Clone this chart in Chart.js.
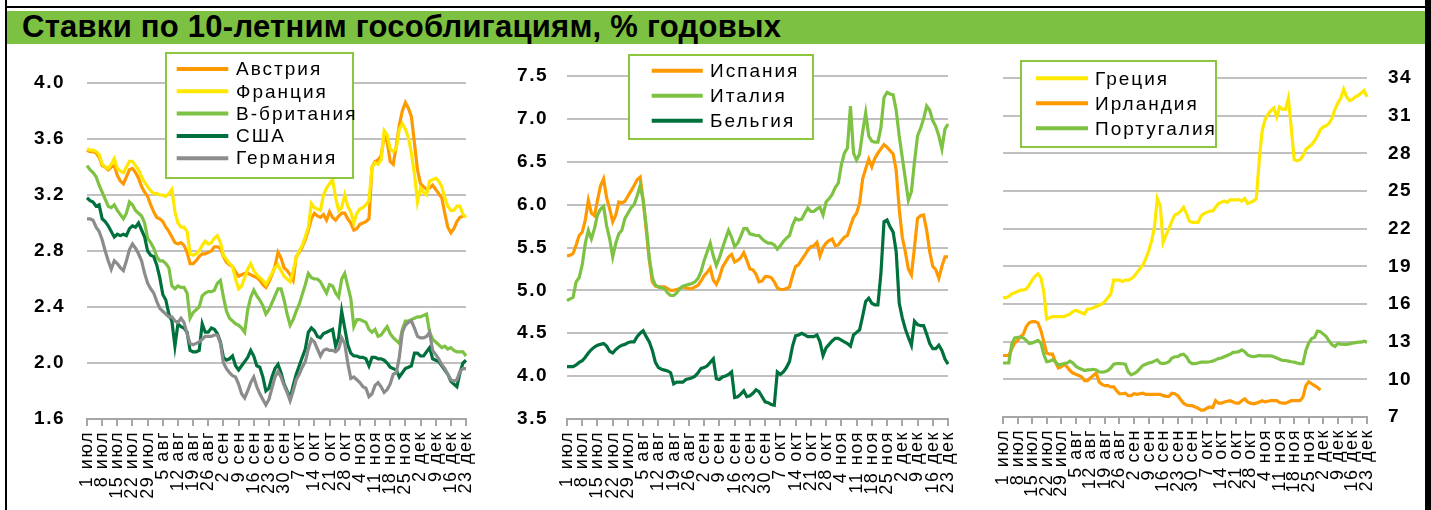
<!DOCTYPE html>
<html><head><meta charset="utf-8">
<script src="https://cdn.jsdelivr.net/npm/chart.js@4"></script>
<style>
html,body{margin:0;padding:0;background:#fff;}
#wrap{position:relative;width:1431px;height:510px;overflow:hidden;background:#fff;font-family:Arial,"Liberation Sans",sans-serif;}
.bl{position:absolute;background:#000;}
#title{position:absolute;left:7px;top:11px;width:1418px;height:33px;background:#7CC142;}
#title span{position:absolute;left:15px;top:-1px;line-height:33px;font-weight:bold;font-size:31px;letter-spacing:0.25px;color:#000;white-space:nowrap;}
canvas{position:absolute;}
</style></head>
<body>
<div id="wrap">
  <div class="bl" style="left:5px;top:0;width:2px;height:510px"></div>
  <div class="bl" style="left:5px;top:6px;width:1426px;height:2px"></div>
  <div class="bl" style="left:1425px;top:0;width:6px;height:510px"></div>
  <div id="title"><span>Ставки по 10-летним гособлигациям, % годовых</span></div>
  <canvas id="c1" width="473" height="462" style="left:7px;top:44px"></canvas>
  <canvas id="c2" width="480" height="462" style="left:480px;top:44px"></canvas>
  <canvas id="c3" width="465" height="462" style="left:960px;top:44px"></canvas>
</div>
<script>
// weekly tick labels (Fridays); data are business days, 126 points (1 июл .. 23 дек)
const weekLabels = ["1 июл","8 июл","15 июл","22 июл","29 июл","5 авг","12 авг","19 авг","26 авг","2 сен","9 сен","16 сен","23 сен","30 сен","7 окт","14 окт","21 окт","28 окт","4 ноя","11 ноя","18 ноя","25 ноя","2 дек","9 дек","16 дек","23 дек"];

const yTicks1 = [1.6, 2.0, 2.4, 2.8, 3.2, 3.6, 4.0];
const yTicks2 = [3.5, 4.0, 4.5, 5.0, 5.5, 6.0, 6.5, 7.0, 7.5];
const yTicks3 = [7, 10, 13, 16, 19, 22, 25, 28, 31, 34];

const austria = [3.52,3.51,3.51,3.50,3.47, 3.41,3.40,3.38,3.40,3.41, 3.34,3.30,3.28,3.33,3.38, 3.39,3.36,3.32,3.26,3.22, 3.19,3.13,3.08,3.04,3.03, 3.01,2.97,2.94,2.90,2.86, 2.85,2.86,2.84,2.79,2.71, 2.71,2.73,2.76,2.78,2.78, 2.79,2.80,2.83,2.83,2.82, 2.76,2.72,2.70,2.69,2.65, 2.62,2.63,2.64,2.64,2.63, 2.62,2.61,2.59,2.56,2.54, 2.58,2.63,2.69,2.79,2.75, 2.68,2.66,2.63,2.59,2.76, 2.79,2.83,2.88,2.95,3.03, 3.07,3.05,3.04,3.06,3.02, 3.08,3.04,3.02,3.05,3.07, 3.07,3.03,3.00,2.95,2.96, 2.99,3.00,3.01,3.03,3.40, 3.44,3.45,3.48,3.62,3.58, 3.44,3.42,3.55,3.70,3.80, 3.86,3.82,3.76,3.57,3.38, 3.28,3.26,3.24,3.25,3.27, 3.24,3.21,3.18,3.07,2.97, 2.93,2.96,3.01,3.04,3.05, 3.05];
const france = [3.53,3.52,3.52,3.51,3.49, 3.42,3.40,3.39,3.42,3.46, 3.39,3.37,3.36,3.40,3.44, 3.44,3.41,3.38,3.33,3.29, 3.26,3.23,3.21,3.21,3.20, 3.20,3.19,3.21,3.24,3.08, 3.00,2.97,2.97,2.94,2.78, 2.77,2.78,2.80,2.84,2.87, 2.85,2.86,2.89,2.91,2.86, 2.77,2.74,2.71,2.69,2.60, 2.53,2.55,2.61,2.67,2.71, 2.66,2.63,2.61,2.59,2.56, 2.60,2.64,2.68,2.70,2.66, 2.62,2.60,2.58,2.66,2.75, 2.80,2.84,2.90,2.97,3.14, 3.11,3.10,3.09,3.20,3.25, 3.28,3.31,3.18,3.09,3.11, 3.20,3.12,3.08,3.00,3.07, 3.10,3.11,3.13,3.16,3.40, 3.43,3.42,3.45,3.66,3.63, 3.53,3.51,3.53,3.67,3.71, 3.67,3.61,3.50,3.35,3.15, 3.25,3.22,3.20,3.30,3.31, 3.32,3.30,3.26,3.18,3.12, 3.09,3.09,3.12,3.12,3.06, 3.04];
const britain = [3.41,3.38,3.36,3.33,3.27, 3.22,3.17,3.12,3.11,3.13, 3.09,3.06,3.03,3.07,3.15, 3.13,3.09,3.07,3.05,3.00, 2.89,2.86,2.82,2.76,2.73, 2.73,2.71,2.68,2.55,2.53, 2.55,2.54,2.54,2.50,2.32, 2.36,2.38,2.40,2.48,2.50, 2.51,2.51,2.52,2.57,2.59, 2.47,2.37,2.32,2.30,2.28, 2.27,2.25,2.22,2.38,2.47, 2.52,2.48,2.45,2.41,2.35, 2.38,2.43,2.48,2.53,2.53, 2.45,2.35,2.27,2.31,2.37, 2.42,2.49,2.56,2.64,2.61, 2.60,2.60,2.58,2.54,2.50, 2.56,2.55,2.50,2.47,2.60, 2.64,2.55,2.46,2.26,2.31, 2.31,2.30,2.29,2.24,2.22, 2.24,2.19,2.20,2.23,2.26, 2.21,2.18,2.16,2.14,2.24, 2.30,2.30,2.31,2.32,2.33, 2.33,2.34,2.35,2.22,2.17, 2.15,2.13,2.11,2.12,2.10, 2.11,2.09,2.08,2.08,2.08, 2.05];
const usa = [3.18,3.16,3.15,3.12,3.13, 3.03,3.01,2.98,2.94,2.90, 2.92,2.91,2.92,2.91,2.96, 2.98,2.97,3.00,2.95,2.90, 2.80,2.77,2.76,2.70,2.61, 2.49,2.45,2.35,2.30,2.12, 2.28,2.26,2.25,2.22,2.09, 2.08,2.08,2.09,2.28,2.22, 2.22,2.25,2.24,2.21,2.15, 2.04,2.02,2.03,2.05,1.98, 1.95,1.98,2.01,2.04,2.09, 2.05,1.98,1.97,1.90,1.80, 1.82,1.90,1.96,1.99,1.93, 1.85,1.80,1.75,1.84,1.92, 1.98,2.04,2.10,2.22,2.25, 2.23,2.19,2.18,2.21,2.22, 2.23,2.24,2.12,2.18,2.37, 2.25,2.13,2.07,2.05,2.05, 2.04,2.04,2.03,1.98,2.04, 2.04,2.03,2.03,2.02,2.00, 1.97,1.96,1.95,1.90,1.93, 1.96,1.97,1.98,2.07,2.07, 2.05,2.05,2.08,2.11,2.03, 2.02,2.01,1.98,1.95,1.92, 1.87,1.85,1.83,1.93,2.00, 2.02];
const germany = [3.03,3.03,3.02,2.97,2.94, 2.88,2.80,2.73,2.67,2.73, 2.71,2.68,2.66,2.73,2.81, 2.85,2.82,2.78,2.73,2.64, 2.57,2.53,2.50,2.44,2.39, 2.37,2.35,2.33,2.33,2.30, 2.29,2.32,2.29,2.21,2.14, 2.13,2.14,2.15,2.17,2.19, 2.19,2.19,2.20,2.20,2.14, 2.00,1.96,1.93,1.91,1.90, 1.85,1.78,1.75,1.80,1.86, 1.90,1.83,1.78,1.74,1.70, 1.74,1.82,1.90,1.94,1.90, 1.84,1.79,1.73,1.80,1.88, 1.92,1.97,2.01,2.10,2.17, 2.15,2.10,2.05,2.09,2.10, 2.09,2.09,2.08,2.10,2.18, 2.14,2.00,1.89,1.90,1.88, 1.86,1.83,1.82,1.76,1.78, 1.84,1.86,1.83,1.79,1.81, 1.85,1.92,1.93,2.04,2.22, 2.27,2.29,2.30,2.25,2.19, 2.18,2.18,2.19,2.22,2.09, 2.06,2.03,1.99,1.96,1.92, 1.88,1.87,1.88,1.94,1.96, 1.96];

const spain = [5.40,5.41,5.43,5.53,5.64, 5.68,5.82,6.05,5.90,5.87, 6.05,6.22,6.30,6.08,5.95, 5.80,5.88,6.03,6.02,6.04, 6.10,6.16,6.22,6.29,6.32, 6.05,5.70,5.35,5.10,5.05, 5.04,5.04,5.04,5.02,5.00, 5.00,5.01,5.02,5.04,5.03, 5.02,5.02,5.04,5.06,5.11, 5.17,5.21,5.26,5.12,5.07, 5.15,5.27,5.33,5.39,5.42, 5.33,5.35,5.38,5.44,5.35, 5.25,5.24,5.19,5.10,5.11, 5.16,5.16,5.15,5.10,5.03, 5.01,5.01,5.02,5.04,5.17, 5.28,5.30,5.36,5.41,5.47, 5.51,5.52,5.56,5.40,5.50, 5.55,5.58,5.60,5.52,5.53, 5.58,5.62,5.64,5.75,5.85, 5.90,6.02,6.30,6.42,6.53, 6.44,6.54,6.60,6.65,6.70, 6.67,6.63,6.59,6.40,5.95, 5.62,5.45,5.25,5.18,5.50, 5.84,5.87,5.88,5.70,5.45, 5.28,5.24,5.14,5.28,5.39, 5.39];
const italy = [4.88,4.90,4.92,5.10,5.15, 5.30,5.55,5.70,5.60,5.72, 5.88,5.95,5.98,5.75,5.60, 5.39,5.55,5.66,5.70,5.84, 5.90,5.96,6.00,6.10,6.22, 6.05,5.75,5.38,5.15,5.06, 5.04,5.03,5.02,4.97,4.94, 4.94,4.97,5.02,5.05,5.06, 5.07,5.08,5.10,5.14,5.22, 5.35,5.45,5.55,5.40,5.29, 5.38,5.49,5.60,5.70,5.62, 5.51,5.55,5.63,5.72,5.72, 5.66,5.65,5.64,5.64,5.60, 5.57,5.55,5.55,5.53,5.48, 5.52,5.57,5.61,5.64,5.76, 5.84,5.82,5.83,5.90,5.96, 5.92,5.92,5.95,5.97,5.88, 6.03,6.07,6.12,6.20,6.25, 6.46,6.60,6.66,7.15,6.60, 6.52,6.59,6.85,7.07,6.80, 6.74,6.73,6.73,6.90,7.25, 7.31,7.29,7.28,7.10,6.80, 6.55,6.30,6.05,6.15,6.50, 6.80,6.89,7.00,7.15,7.10, 6.98,6.91,6.80,6.65,6.88, 6.94];
const belgium = [4.11,4.11,4.11,4.13,4.16, 4.18,4.22,4.27,4.31,4.34, 4.36,4.37,4.38,4.35,4.29, 4.27,4.31,4.34,4.36,4.37, 4.39,4.40,4.40,4.46,4.50, 4.53,4.46,4.40,4.30,4.16, 4.10,4.08,4.07,4.06,4.04, 3.91,3.93,3.93,3.93,3.96, 3.97,3.98,4.00,4.04,4.09, 4.10,4.12,4.16,4.20,3.97, 3.96,3.99,4.00,4.02,4.05, 3.75,3.76,3.79,3.83,3.76, 3.77,3.80,3.84,3.82,3.76, 3.70,3.69,3.67,3.66,4.05, 4.02,4.05,4.10,4.17,4.35, 4.47,4.48,4.50,4.48,4.46, 4.46,4.46,4.48,4.40,4.24, 4.33,4.37,4.41,4.44,4.44, 4.42,4.40,4.38,4.35,4.48, 4.51,4.54,4.70,4.87,4.91, 4.85,4.83,4.83,5.20,5.80, 5.82,5.74,5.68,5.45,4.85, 4.68,4.55,4.45,4.36,4.64, 4.60,4.59,4.59,4.49,4.38, 4.32,4.32,4.36,4.30,4.20, 4.14];

const greece = [16.5,16.5,16.6,16.8,16.9, 17.0,17.1,17.1,17.2,17.5, 17.9,18.2,18.4,18.1,17.0, 14.8,14.9,15.0,15.0,15.0, 15.0,15.0,15.1,15.2,15.4, 15.5,15.4,15.3,15.2,15.6, 15.6,15.7,15.8,15.9,16.0, 16.2,16.5,16.8,17.9,17.9, 17.9,17.8,17.9,17.9,18.0, 18.2,18.5,18.8,19.1,19.6, 20.2,21.0,22.1,24.4,23.8, 20.9,21.5,22.0,22.6,23.1, 23.2,23.4,23.7,23.2,22.6, 22.5,22.5,22.5,23.0,23.2, 23.3,23.4,23.4,23.7,24.0, 24.1,24.2,24.1,24.3,24.3, 24.3,24.3,24.2,24.4,24.0, 24.1,24.2,24.4,27.5,29.8, 30.7,31.1,31.4,31.6,30.9, 31.7,31.5,31.5,32.4,30.0, 27.5,27.4,27.5,27.8,28.3, 28.5,28.7,29.0,29.4,29.9, 30.1,30.2,30.4,30.8,31.5, 32.0,32.4,33.1,32.5,32.2, 32.3,32.5,32.6,32.8,33.0, 32.5];
const ireland = [11.9,11.9,11.9,12.4,12.9, 13.1,13.4,13.6,14.2,14.5, 14.6,14.6,14.5,13.9,13.0, 12.1,12.0,12.0,11.4,10.9, 11.0,11.2,11.0,10.7,10.5, 10.4,10.3,10.2,9.9,9.9, 10.1,10.3,10.5,9.8,9.6, 9.5,9.5,9.4,9.4,9.1, 8.85,8.85,8.9,8.7,8.7, 8.85,8.8,8.85,8.9,8.8, 8.8,8.8,8.8,8.8,8.8, 8.7,8.65,8.65,8.9,8.85, 8.7,8.4,8.1,7.95,7.9, 7.9,7.8,7.7,7.55,7.55, 7.7,7.8,7.75,8.3,8.1, 8.1,8.2,8.25,8.3,8.2, 8.1,8.1,8.3,8.45,8.2, 8.1,8.05,8.1,8.2,8.3, 8.2,8.25,8.3,8.3,8.3, 8.15,8.1,8.1,8.2,8.3, 8.3,8.3,8.3,8.6,9.5, 9.8,9.65,9.5,9.35,9.15, null,null,null,null,null, null,null,null,null,null, null,null,null,null,null, null];
const portugal = [11.3,11.3,11.3,12.8,13.3, 13.35,13.35,13.3,13.1,12.85, 12.9,13.0,13.1,12.9,12.0, 11.4,11.45,11.55,11.4,11.15, 11.2,11.25,11.3,11.45,11.3, 11.05,10.9,10.8,10.7,10.75, 10.75,10.8,10.75,10.6,10.58, 10.6,10.7,10.9,11.2,11.25, 11.25,11.24,11.2,10.6,10.35, 10.45,10.6,10.85,11.1,11.2, 11.3,11.35,11.45,11.55,11.3, 11.25,11.3,11.4,11.7,11.8, 11.8,11.95,12.0,11.8,11.4, 11.25,11.25,11.3,11.37,11.37, 11.37,11.4,11.45,11.55,11.65, 11.7,11.8,11.9,12.0,12.15, 12.17,12.2,12.35,12.2,11.95, 11.85,11.8,11.85,11.9,11.87, 11.87,11.87,11.87,11.8,11.7, 11.6,11.5,11.5,11.45,11.4, 11.37,11.3,11.24,11.25,12.3, 12.9,13.25,13.35,13.85,13.8, 13.6,13.4,13.05,12.75,12.62, 12.85,12.8,12.78,12.78,12.82, 12.88,12.92,12.96,12.96,13.04, 12.96];

// business-day categories; only every 5th (Friday) is labelled
const categories = austria.map((_, i) => (i % 5 === 0 ? weekLabels[i / 5] : ''));

const C = { orange:'#FF9900', yellow:'#FFE800', light:'#7DC242', dark:'#00703C', gray:'#8C8C8C' };
Chart.defaults.font.family = 'Arial, "Liberation Sans", sans-serif';
Chart.defaults.color = '#000';

const spacing = {
  id: 'spacing',
  beforeDraw(chart) { try { chart.ctx.letterSpacing = '1.5px'; } catch (e) {} }
};

const boxLegend = {
  id: 'boxLegend',
  afterDatasetsDraw(chart, args, o) {
    const ctx = chart.ctx;
    ctx.save();
    try { ctx.letterSpacing = '2px'; } catch (e) {}
    ctx.fillStyle = '#fff';
    ctx.fillRect(o.x, o.y, o.w, o.h);
    ctx.strokeStyle = '#8CC63F';
    ctx.lineWidth = 2;
    ctx.strokeRect(o.x, o.y, o.w, o.h);
    ctx.font = '19px Arial, "Liberation Sans", sans-serif';
    ctx.textBaseline = 'middle';
    ctx.textAlign = 'left';
    chart.data.datasets.forEach((ds, k) => {
      const cy = o.rowY + k * o.rowH;
      ctx.strokeStyle = ds.borderColor;
      ctx.lineWidth = 4;
      ctx.beginPath();
      ctx.moveTo(o.x + o.lineX, cy);
      ctx.lineTo(o.x + o.lineX + o.lineLen, cy);
      ctx.stroke();
      ctx.fillStyle = '#000';
      ctx.fillText(ds.label, o.x + o.textX, cy + 1);
    });
    ctx.restore();
  }
};

function ds(label, data, color, idx) {
  return { label, data, borderColor: color, backgroundColor: color, borderWidth: 3.2,
           pointRadius: 0, pointHoverRadius: 0, tension: 0, fill: false, spanGaps: false, order: -idx };
}

function makeChart(id, datasets, cfg) {
  const yTickVals = cfg.yTicks;
  return new Chart(document.getElementById(id), {
    type: 'line',
    data: { labels: categories, datasets },
    plugins: [spacing, boxLegend],
    options: {
      responsive: false, animation: false, devicePixelRatio: 1,
      layout: { padding: cfg.padding },
      events: [],
      plugins: { legend: { display: false }, tooltip: { enabled: false }, title: { display: false },
                 boxLegend: cfg.legend },
      scales: {
        x: {
          type: 'category', offset: false,
          grid: { display: true, drawOnChartArea: false, drawTicks: true, tickLength: 7, color: '#A6A6A6', lineWidth: 2 },
          border: { display: true, color: '#A6A6A6', width: 2 },
          ticks: { autoSkip: false, maxRotation: 90, minRotation: 90, padding: 5,
                   font: { size: 18 }, color: '#000' },
          afterBuildTicks(axis) { axis.ticks = axis.ticks.filter(t => t.value % 5 === 0); },
          afterFit(s) { s.height = cfg.xH; s.paddingLeft = 0; s.paddingRight = 0; }
        },
        y: {
          position: cfg.yPos, min: yTickVals[0], max: yTickVals[yTickVals.length - 1],
          grid: { color: '#C0C0C0', lineWidth: 2, drawTicks: false },
          border: { display: false },
          ticks: { padding: cfg.yPad, font: { size: 19, weight: 'bold' }, color: '#000',
                   callback: v => cfg.fmt(v) },
          afterBuildTicks(axis) { axis.ticks = yTickVals.map(v => ({ value: v })); },
          afterFit(s) { s.width = cfg.yW; s.paddingTop = 0; s.paddingBottom = 0; }
        }
      }
    }
  });
}

makeChart('c1', [
  ds('Австрия', austria, C.orange, 0),
  ds('Франция', france, C.yellow, 1),
  ds('В-британия', britain, C.light, 2),
  ds('США', usa, C.dark, 3),
  ds('Германия', germany, C.gray, 4)
], { yTicks: yTicks1, fmt: v => v.toFixed(1), yPos: 'left', yW: 80, yPad: 22, xH: 87,
     padding: { top: 39, right: 14, left: 0, bottom: 0 },
     legend: { x: 159, y: 9, w: 187, h: 125, rowY: 25, rowH: 22.3, lineX: 10.7, lineLen: 51.6, textX: 70 } });

makeChart('c2', [
  ds('Испания', spain, C.orange, 0),
  ds('Италия', italy, C.light, 1),
  ds('Бельгия', belgium, C.dark, 2)
], { yTicks: yTicks2, fmt: v => v.toFixed(1), yPos: 'left', yW: 87, yPad: 19, xH: 87,
     padding: { top: 32, right: 12, left: 0, bottom: 0 },
     legend: { x: 149, y: 11, w: 184, h: 84, rowY: 26.7, rowH: 25, lineX: 22.7, lineLen: 51, textX: 81 } });

makeChart('c3', [
  ds('Греция', greece, C.yellow, 0),
  ds('Ирландия', ireland, C.orange, 1),
  ds('Португалия', portugal, C.light, 2)
], { yTicks: yTicks3, fmt: v => String(v), yPos: 'right', yW: 58, yPad: 21, xH: 89,
     padding: { top: 34, right: 0, left: 43, bottom: 0 },
     legend: { x: 61, y: 17, w: 195, h: 86, rowY: 34.3, rowH: 25, lineX: 15, lineLen: 52, textX: 74 } });
</script>
</body></html>
